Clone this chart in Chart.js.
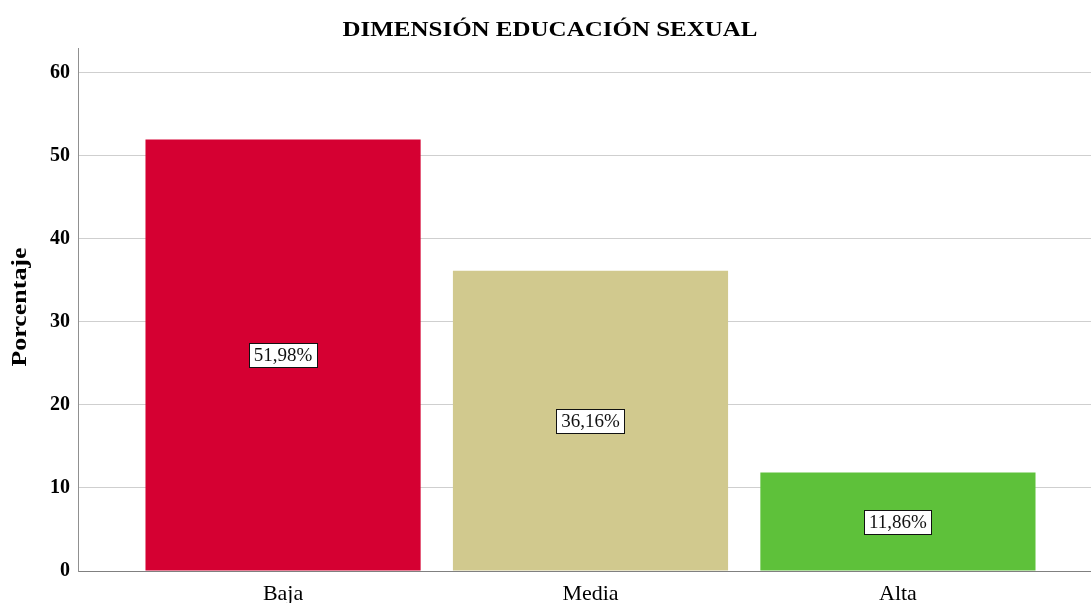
<!DOCTYPE html>
<html>
<head>
<meta charset="utf-8">
<script src="https://cdn.jsdelivr.net/npm/chart.js@4/dist/chart.umd.min.js"></script>
<style>
html,body{margin:0;padding:0;background:#fff;}
#wrap{width:1091px;height:603px;position:relative;}
</style>
</head>
<body>
<div id="wrap"><canvas id="c"></canvas></div>
<script>
const categories = ['Baja', 'Media', 'Alta'];
const values = [51.98, 36.16, 11.86];
const valueLabels = ['51,98%', '36,16%', '11,86%'];
const colors = ['#D50032', '#D1C98E', '#5EC13A'];
const yTicks = [0, 10, 20, 30, 40, 50, 60];
const titleText = 'DIMENSIÓN EDUCACIÓN SEXUAL';
const yTitleText = 'Porcentaje';

const serif = '"Liberation Serif", "Times New Roman", serif';

function stretchedText(ctx, text, x, y, font, targetWidth, rotate) {
  ctx.save();
  ctx.font = font;
  ctx.textAlign = 'center';
  ctx.textBaseline = 'middle';
  ctx.fillStyle = '#000';
  const w = ctx.measureText(text).width;
  ctx.translate(x, y);
  if (rotate) ctx.rotate(-Math.PI / 2);
  ctx.scale(targetWidth / w, 1);
  ctx.fillText(text, 0, 0);
  ctx.restore();
}

const textPlugin = {
  id: 'texts',
  afterDraw(chart) {
    const ctx = chart.ctx;
    stretchedText(ctx, titleText, 550, 31, 'bold 20px ' + serif, 415, false);
    stretchedText(ctx, yTitleText, 21, 307, 'bold 20px ' + serif, 119, true);
  },
  afterDatasetsDraw(chart) {
    const ctx = chart.ctx;
    const meta = chart.getDatasetMeta(0);
    ctx.save();
    ctx.font = '19px ' + serif;
    ctx.textAlign = 'center';
    ctx.textBaseline = 'middle';
    meta.data.forEach((bar, i) => {
      const cx = bar.x;
      const cy = (bar.y + bar.base) / 2;
      const t = valueLabels[i];
      const w = Math.round(ctx.measureText(t).width + 9);
      const h = 24;
      const x0 = Math.round(cx - w / 2) + 0.5;
      const y0 = Math.round(cy - h / 2) + 0.5;
      ctx.fillStyle = '#fff';
      ctx.fillRect(x0, y0, w, h);
      ctx.strokeStyle = '#111';
      ctx.lineWidth = 1;
      ctx.strokeRect(x0, y0, w, h);
      ctx.fillStyle = '#111';
      ctx.fillText(t, cx, cy + 1);
    });
    ctx.restore();
  }
};

new Chart(document.getElementById('c'), {
  type: 'bar',
  data: {
    datasets: [{
      data: categories.map((c, i) => ({ x: i, y: values[i] })),
      backgroundColor: colors,
      borderWidth: 0,
      barPercentage: 0.895,
      categoryPercentage: 1
    }]
  },
  options: {
    responsive: true,
    maintainAspectRatio: false,
    animation: false,
    layout: { padding: { left: 0, right: 0, top: 48, bottom: 0 } },
    plugins: {
      legend: { display: false },
      tooltip: { enabled: false },
      title: { display: false }
    },
    scales: {
      x: {
        type: 'linear',
        offset: false,
        min: -0.667,
        max: 2.628,
        afterBuildTicks(scale) { scale.ticks = categories.map((c, i) => ({ value: i })); },
        afterFit(scale) { scale.height = 32; },
        ticks: {
          autoSkip: false,
          maxRotation: 0,
          padding: 2,
          color: '#000',
          font: { family: serif, size: 22 },
          callback: (v) => categories[v] !== undefined ? categories[v] : ''
        },
        grid: { display: false, offset: false },
        border: { display: true, color: '#808080', width: 1 }
      },
      y: {
        min: 0,
        max: 63,
        afterBuildTicks(scale) { scale.ticks = yTicks.map(v => ({ value: v })); },
        afterFit(scale) { scale.width = 78; },
        ticks: {
          padding: 8,
          color: '#000',
          font: { family: serif, size: 20, weight: 'bold' }
        },
        title: { display: false },
        grid: { color: '#cfcfcf', drawTicks: false, lineWidth: 1 },
        border: { display: true, color: '#909090', width: 1 }
      }
    }
  },
  plugins: [textPlugin]
});
</script>
</body>
</html>
